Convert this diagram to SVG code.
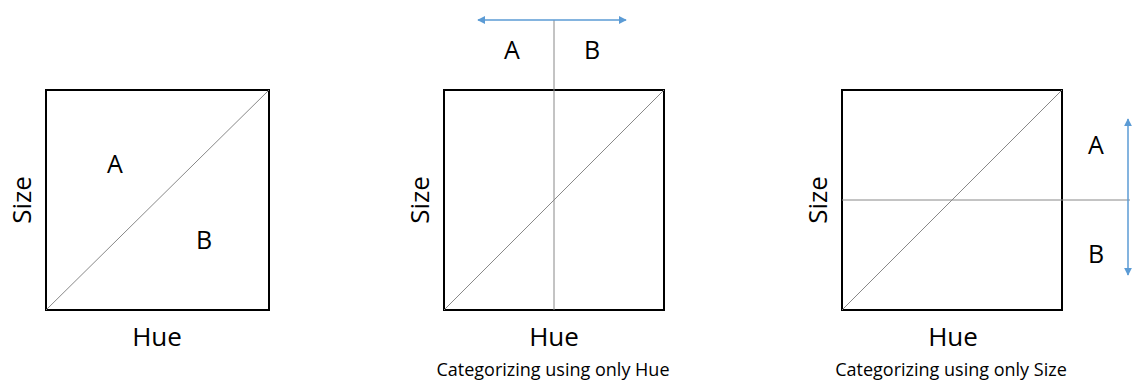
<svg xmlns="http://www.w3.org/2000/svg" width="1134" height="381" viewBox="0 0 1134 381">
<style>
.box{fill:#fff;stroke:#000;stroke-width:2}
.thin{stroke:#888;stroke-width:1;fill:none}
.arr{stroke:#5b9bd5;stroke-width:1.5;fill:none}
text{font-family:"Open Sans","Liberation Sans",sans-serif;fill:#000}
.lab{font-size:25px;text-anchor:middle}
.ax{font-size:26px;text-anchor:middle}
.cap{font-size:18px;text-anchor:middle}
</style>
<defs>
<marker id="ah" viewBox="0 0 10 10" refX="9" refY="5" markerWidth="8" markerHeight="8" markerUnits="userSpaceOnUse" orient="auto-start-reverse"><path d="M0,0L10,5L0,10z" fill="#5b9bd5"/></marker>
</defs>
<rect width="1134" height="381" fill="#fff"/>
<g id="panel1">
<rect class="box" x="46" y="90" width="223" height="220"/>
<text class="lab" x="115" y="173">A</text>
<text class="lab" x="204" y="249">B</text>
<text class="ax" x="157" y="346">Hue</text>
<text class="ax" transform="translate(31,200) rotate(-90)">Size</text>
</g>
<g id="panel2">
<rect class="box" x="444" y="90" width="220" height="220"/>
<text class="lab" x="512" y="59">A</text>
<text class="lab" x="592" y="59">B</text>
<text class="ax" x="554" y="346">Hue</text>
<text class="ax" transform="translate(429,200) rotate(-90)">Size</text>
<text class="cap" x="553" y="376">Categorizing using only Hue</text>
</g>
<g id="panel3">
<rect class="box" x="842" y="90" width="220" height="220"/>
<text class="lab" x="1096" y="154">A</text>
<text class="lab" x="1096" y="263">B</text>
<text class="ax" x="953" y="346">Hue</text>
<text class="ax" transform="translate(827,200) rotate(-90)">Size</text>
<text class="cap" x="951" y="376">Categorizing using only Size</text>
</g>
<g id="connectors">
<line class="thin" x1="46" y1="310" x2="269" y2="90"/>
<line class="thin" x1="444" y1="310" x2="664" y2="90"/>
<line class="thin" x1="554" y1="20" x2="554" y2="310"/>
<line class="arr" x1="478" y1="20" x2="626" y2="20" marker-start="url(#ah)" marker-end="url(#ah)"/>
<line class="thin" x1="842" y1="310" x2="1062" y2="90"/>
<line class="thin" x1="842" y1="200" x2="1130" y2="200"/>
<line class="arr" x1="1128" y1="119" x2="1128" y2="275" marker-start="url(#ah)" marker-end="url(#ah)"/>
</g>
</svg>
